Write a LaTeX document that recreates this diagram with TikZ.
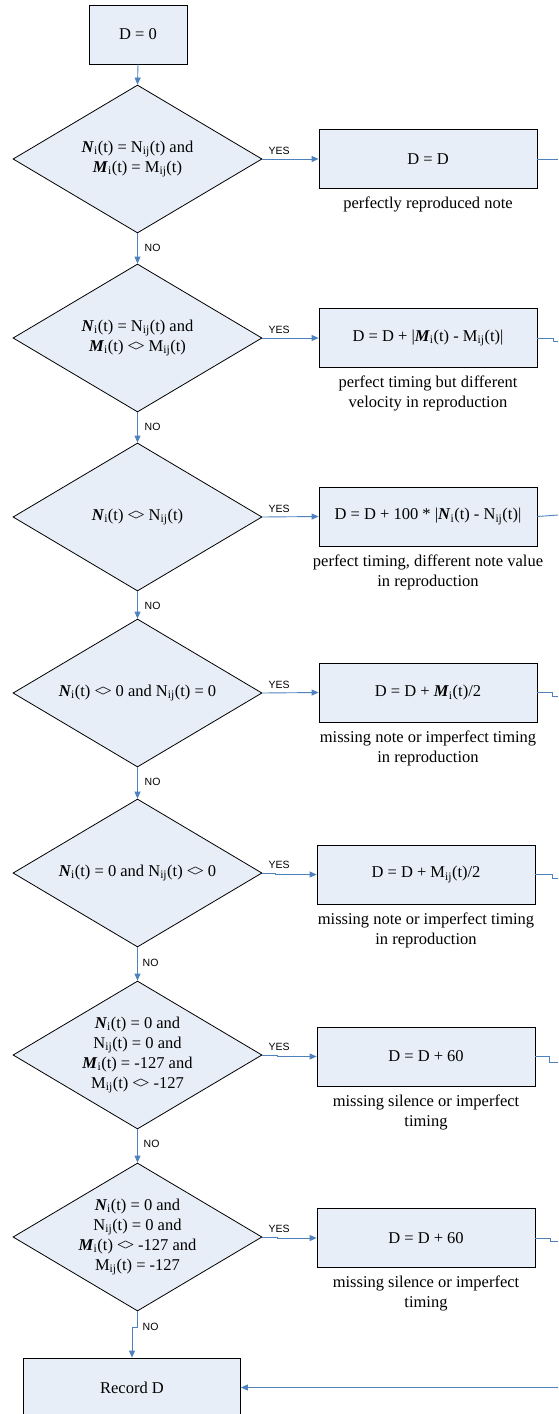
\documentclass[tikz,border=0pt]{standalone}
\usepackage{fontspec}
\setmainfont{Liberation Serif}
\newfontfamily\ynfont{Liberation Sans}
\usetikzlibrary{shapes.geometric,arrows.meta,calc}
\definecolor{boxfill}{RGB}{232,238,247}
\definecolor{flowblue}{RGB}{79,129,189}
% variables of the comparison
\newcommand\NNi{\textbf{\textit{N}}\textsubscript{i}}
\newcommand\MMi{\textbf{\textit{M}}\textsubscript{i}}
\newcommand\NNij{N\textsubscript{ij}}
\newcommand\MMij{M\textsubscript{ij}}
\newcommand\NEQ{<\kern-0.1em>}
\newcommand\mainsize{\fontsize{16.5}{20}\selectfont}
\begin{document}
\begin{tikzpicture}[x=1pt,y=-1pt,
  box/.style={draw=black, line width=0.8pt, fill=boxfill, minimum height=59pt,
    inner sep=0pt, font=\mainsize},
  dia/.style={diamond, draw=black, line width=0.8pt, fill=boxfill, inner sep=0pt,
    minimum width=249pt, minimum height=148pt},
  dtext/.style={align=center, font=\mainsize, inner sep=0pt},
  note/.style={align=center, font=\mainsize, inner sep=0pt, anchor=north},
  conn/.style={draw=flowblue, line width=0.9pt},
  arr/.style={conn, -{Triangle[length=7pt,width=6pt]}},
  yn/.style={font=\ynfont\fontsize{10.5}{12}\selectfont, inner sep=0pt, anchor=base west}]
\useasboundingbox (0,0) rectangle (558,1414);
\clip (0,0) rectangle (558,1414);

% start
\node[box, minimum width=98pt] (start) at (138,34.5) {D = 0};

% decisions
\node[dia] (d1) at (137.5,159) {};
\node[dtext] (t1) at (d1.center) {\NNi(t) = \NNij(t) and\\\MMi(t) = \MMij(t)};
\node[dia] (d2) at (137.5,338) {};
\node[dtext] (t2) at (d2.center) {\NNi(t) = \NNij(t) and\\\MMi(t) \NEQ{} \MMij(t)};
\node[dia] (d3) at (137.5,517) {};
\node[dtext] (t3) at (d3.center) {\NNi(t) \NEQ{} \NNij(t)};
\node[dia] (d4) at (137.5,693) {};
\node[dtext] (t4) at (d4.center) {\NNi(t) \NEQ{} 0 and \NNij(t) = 0};
\node[dia] (d5) at (137.5,873) {};
\node[dtext] (t5) at (d5.center) {\NNi(t) = 0 and \NNij(t) \NEQ{} 0};
\node[dia] (d6) at (137.5,1055) {};
\node[dtext] (t6) at (d6.center) {\NNi(t) = 0 and\\\NNij(t) = 0 and\\\MMi(t) = -127 and\\\MMij(t) \NEQ{} -127};
\node[dia] (d7) at (137.5,1237) {};
\node[dtext] (t7) at (d7.center) {\NNi(t) = 0 and\\\NNij(t) = 0 and\\\MMi(t) \NEQ{} -127 and\\\MMij(t) = -127};

% updates of D
\node[box, minimum width=218pt] (b1) at (428,159) {D = D};
\node[box, minimum width=218pt] (b2) at (428,338) {D = D + |\MMi(t) - \MMij(t)|};
\node[box, minimum width=218pt] (b3) at (428,516.5) {D = D + 100 * |\NNi(t) - \NNij(t)|};
\node[box, minimum width=218pt] (b4) at (428,692.5) {D = D + \MMi(t)/2};
\node[box, minimum width=218pt] (b5) at (426,874.5) {D = D + \MMij(t)/2};
\node[box, minimum width=218pt] (b6) at (426,1056.5) {D = D + 60};
\node[box, minimum width=218pt] (b7) at (426,1238) {D = D + 60};

% explanations
\node[note] (n1) at ($(b1.south)+(0,5.5)$) {\strut perfectly reproduced note};
\node[note] (n2) at ($(b2.south)+(0,5.5)$) {\strut perfect timing but different\\velocity in reproduction};
\node[note] (n3) at ($(b3.south)+(0,5.5)$) {\strut perfect timing, different note value\\in reproduction};
\node[note] (n4) at ($(b4.south)+(0,5.5)$) {\strut missing note or imperfect timing\\in reproduction};
\node[note] (n5) at ($(b5.south)+(0,5.5)$) {\strut missing note or imperfect timing\\in reproduction};
\node[note] (n6) at ($(b6.south)+(0,5.5)$) {\strut missing silence or imperfect\\timing};
\node[note] (n7) at ($(b7.south)+(0,5.5)$) {\strut missing silence or imperfect\\timing};

% final
\node[box, minimum width=217pt] (rec) at (132,1387.5) {Record D};

% NO branch
\draw[arr] (start.south) -- (d1.north);
\draw[arr] (d1.south) -- (d2.north);
\draw[arr] (d2.south) -- (d3.north);
\draw[arr] (d3.south) -- (d4.north);
\draw[arr] (d4.south) -- (d5.north);
\draw[arr] (d5.south) -- (d6.north);
\draw[arr] (d6.south) -- (d7.north);
\draw[arr] (d7.south) -- ++(0,16) -| (rec.north);
\node[yn] (no1) at ($(d1.south)+(7,18)$) {NO};
\node[yn] (no2) at ($(d2.south)+(7,18)$) {NO};
\node[yn] (no3) at ($(d3.south)+(7,18)$) {NO};
\node[yn] (no4) at ($(d4.south)+(7,18)$) {NO};
\node[yn] (no5) at ($(d5.south)+(5,19)$) {NO};
\node[yn] (no6) at ($(d6.south)+(6,18)$) {NO};
\node[yn] (no7) at ($(d7.south)+(5,19.5)$) {NO};

% YES branch
\draw[arr] (d1.east) -- (b1.west);
\draw[arr] (d2.east) -- (b2.west);
\draw[arr] (d3.east) -- (b3.west);
\draw[arr] (d4.east) -- (b4.west);
\draw[arr] (d5.east) -- ++(13,0) |- (b5.west);
\draw[arr] (d6.east) -- ++(15,0) |- (b6.west);
\draw[arr] (d7.east) -- ++(15,0) |- (b7.west);
\foreach \k in {1,...,7} {
  \node[yn] (yes\k) at ($(d\k.east)+(6,-5)$) {YES};
}

% returns towards the recording step
\coordinate (r1) at (558,159);
\coordinate (r2) at (558,341.5);
\coordinate (r3) at (558,515);
\coordinate (r4) at (558,696.5);
\coordinate (r5) at (558,878);
\coordinate (r6) at (558,1062.5);
\coordinate (r7) at (558,1241);
\coordinate (r8) at (558,1387.5);
\draw[conn] (b1.east) -- (r1);
\draw[conn] (b2.east) -- ++(16,0) |- (r2);
\draw[conn] (b3.east) -- (r3);
\draw[conn] (b4.east) -- ++(15,0) |- (r4);
\draw[conn] (b5.east) -- ++(17,0) |- (r5);
\draw[conn] (b6.east) -- ++(14,0) |- (r6);
\draw[conn] (b7.east) -- ++(15,0) |- (r7);
\draw[arr] (r8) -- (rec.east);
\end{tikzpicture}
\end{document}
